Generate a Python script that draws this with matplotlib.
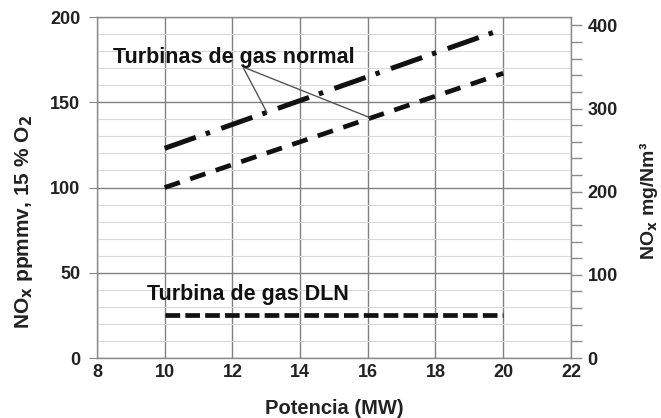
import matplotlib
matplotlib.use("Agg")
import matplotlib.pyplot as plt
from matplotlib.ticker import MultipleLocator

plt.rcParams['font.family'] = ['Liberation Sans', 'DejaVu Sans']
plt.rcParams['font.weight'] = 'bold'
plt.rcParams['mathtext.default'] = 'bf'

# Power output (MW) and NOx emissions (ppmvd, 15 % O2)
potencia = [10, 20]
normal_dashdot = [123, 193]
normal_dashed = [100, 167]
dln = [25, 25]

x_ticks = [8, 10, 12, 14, 16, 18, 20, 22]
y_ticks = [0, 50, 100, 150, 200]
y2_ticks = [0, 100, 200, 300, 400]

fig = plt.figure(figsize=(6.61, 4.18), dpi=100)
ax = fig.add_axes([0.1467, 0.1435, 0.717, 0.8158])

ink = '#111111'
ax.plot(potencia, normal_dashdot, color=ink, lw=3.6,
        dashes=(6.6, 2.1, 0.9, 2.4), dash_capstyle='butt')
ax.plot(potencia, normal_dashed, color=ink, lw=3.4, dashes=(3.4, 2.3))
ax.plot(potencia, dln, color=ink, lw=3.4, dashes=(3.1, 1.1))

ax.set_xlim(8, 22)
ax.set_ylim(0, 200)
ax.set_xticks(x_ticks)
ax.set_yticks(y_ticks)
ax.yaxis.set_minor_locator(MultipleLocator(10))

ax.grid(which='major', axis='both', color='#808080', lw=1.0)
ax.grid(which='minor', axis='y', color='#d9d9d9', lw=0.8)
ax.set_axisbelow(True)
for s in ax.spines.values():
    s.set_color('#8a8a8a')
    s.set_linewidth(1.0)

ax.tick_params(axis='y', which='major', direction='out', length=6,
               color='#8a8a8a', labelsize=13, labelcolor='#222222', pad=6)
ax.tick_params(axis='y', which='minor', length=0)
ax.tick_params(axis='x', length=0, labelsize=13, labelcolor='#222222', pad=4)

ax.set_xlabel('Potencia (MW)', fontsize=14.5, fontweight='bold', color='#222222')
ax.xaxis.set_label_coords(0.5, -0.147)
ax.xaxis.label.set_va('center')
ax.set_ylabel('NO$_x$ ppmmv, 15 % O$_2$', fontsize=15, fontweight='bold',
              color='#222222')
ax.yaxis.set_label_coords(-0.154, 0.40)
ax.yaxis.label.set_va('center')

# Right-hand scale in mg/Nm3 (about 2.05 x ppm)
ax2 = ax.twinx()
ax2.set_ylim(0, 410)
ax2.set_yticks(y2_ticks)
ax2.yaxis.set_minor_locator(MultipleLocator(20))
ax2.tick_params(axis='y', which='both', direction='out', length=8,
                width=1.0, color='#8a8a8a', labelsize=13,
                labelcolor='#222222', pad=4)
for s in ax2.spines.values():
    s.set_visible(False)
ax2.set_ylabel('NO$_x$ mg/Nm³', fontsize=14, fontweight='bold',
               color='#222222')
ax2.yaxis.set_label_coords(1.163, 0.46)
ax2.yaxis.label.set_va('center')

# Callouts
ax.text(8.47, 176, 'Turbinas de gas normal', fontsize=15.5, fontweight='bold',
        color=ink, va='center', ha='left')
ax.plot([12.33, 13.02], [170, 144], color='#555555', lw=1.0)
ax.plot([12.4, 16.06], [170, 141], color='#555555', lw=1.0)
ax.text(9.48, 37, 'Turbina de gas DLN', fontsize=15.5, fontweight='bold',
        color=ink, va='center', ha='left')

fig.savefig('out.png', dpi=100)
